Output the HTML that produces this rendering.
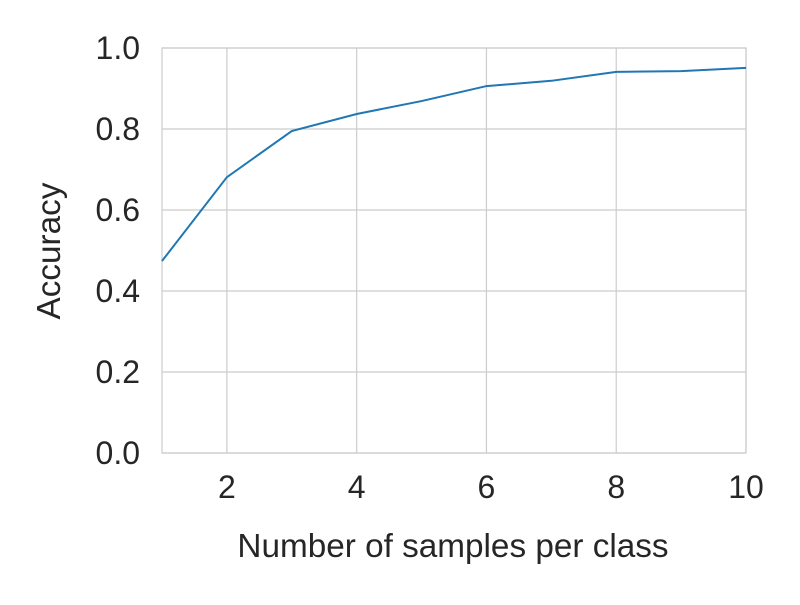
<!DOCTYPE html>
<html><head><meta charset="utf-8"><style>
body{margin:0;background:#fff;}
svg text{font-family:"Liberation Sans",sans-serif;fill:#262626;}
</style></head><body>
<svg id="chart" width="800" height="600">
<g id="grid"></g>
<rect x="162" y="48" width="584" height="405" fill="none" stroke="#cccccc" stroke-width="1.2"/>
<g id="ticks"></g>
<path id="line" fill="none" stroke="#1f77b4" stroke-width="2"/>
<text x="453" y="557" font-size="33.3" text-anchor="middle">Number of samples per class</text>
<text transform="translate(60,251) rotate(-90)" font-size="33.3" text-anchor="middle">Accuracy</text>
</svg>
<script>
const samples=[1,2,3,4,5,6,7,8,9,10];
const accuracy=[0.474,0.681,0.795,0.837,0.869,0.906,0.919,0.941,0.943,0.951];
const xTicks=[2,4,6,8,10];
const yTicks=[0.0,0.2,0.4,0.6,0.8,1.0];
const NS="http://www.w3.org/2000/svg";
const xs=v=>162+(v-1)/9*584;
const ys=v=>453-v*405;
const grid=document.getElementById('grid'),ticks=document.getElementById('ticks');
xTicks.forEach(t=>{
 const l=document.createElementNS(NS,'line');
 
 
 l.setAttribute('x1',xs(t));l.setAttribute('x2',xs(t));l.setAttribute('y1',48);l.setAttribute('y2',453);
 l.setAttribute('stroke','#cccccc');l.setAttribute('stroke-width','1.2');grid.appendChild(l);
 const tx=document.createElementNS(NS,'text');
 
 
 tx.setAttribute('x',xs(t));tx.setAttribute('y',498);tx.setAttribute('font-size','32');tx.setAttribute('text-anchor','middle');
 tx.textContent=t;ticks.appendChild(tx);
});
yTicks.forEach(t=>{
 const l=document.createElementNS(NS,'line');
 
 
 l.setAttribute('x1',162);l.setAttribute('x2',746);l.setAttribute('y1',ys(t));l.setAttribute('y2',ys(t));
 l.setAttribute('stroke','#cccccc');l.setAttribute('stroke-width','1.2');grid.appendChild(l);
 const tx=document.createElementNS(NS,'text');
 
 
 tx.setAttribute('x',140);tx.setAttribute('y',ys(t)+11);tx.setAttribute('font-size','32');tx.setAttribute('text-anchor','end');
 tx.textContent=t.toFixed(1);ticks.appendChild(tx);
});
document.getElementById('line').setAttribute('d',samples.map((s,i)=>(i?'L':'M')+xs(s)+','+ys(accuracy[i])).join(''));
</script>
</body></html>
